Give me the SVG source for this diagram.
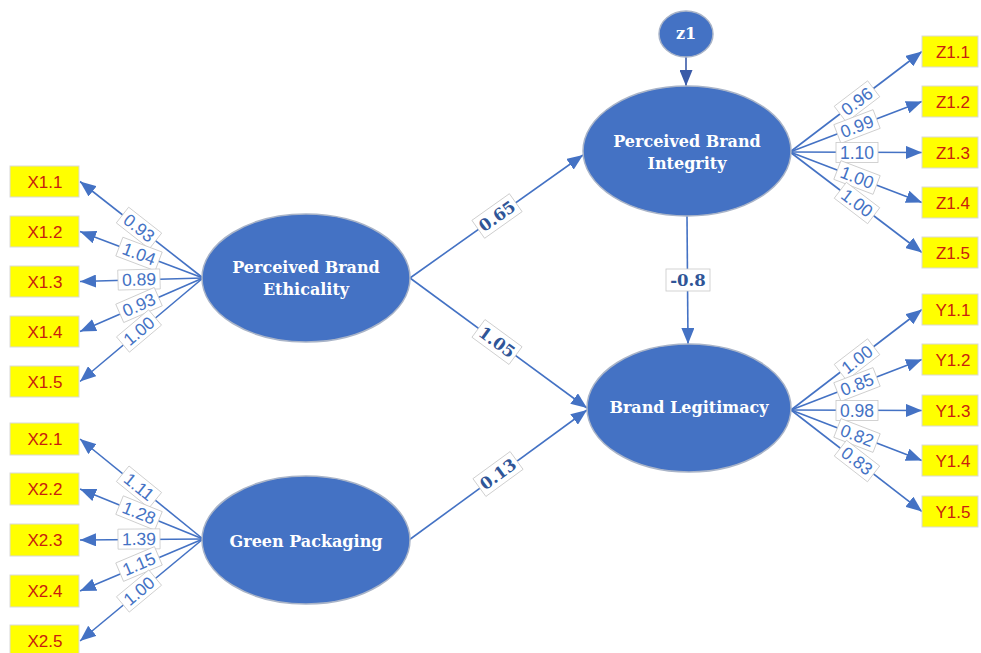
<svg xmlns="http://www.w3.org/2000/svg" width="981" height="653" viewBox="0 0 981 653">
<defs>
<marker id="ah" markerUnits="userSpaceOnUse" markerWidth="17" markerHeight="13" refX="16" refY="6.5" orient="auto">
<path d="M0,0 L16,6.5 L0,13 z" fill="#4472C4"/>
</marker>
<marker id="ahd" markerUnits="userSpaceOnUse" markerWidth="17" markerHeight="13" refX="16" refY="6.5" orient="auto">
<path d="M0,0 L16,6.5 L0,13 z" fill="#3A5BA8"/>
</marker>
</defs>
<style>
.lat{fill:#4472C4;stroke:#A9B4C8;stroke-width:1.5}
.lt{fill:#fff;font-family:"DejaVu Serif",serif;font-weight:bold;font-size:16px;text-anchor:middle}
.ind{fill:#FFFF00;stroke:#D9D9D9;stroke-width:1}
.it{fill:#C8200E;font-family:"Liberation Sans",Arial,sans-serif;font-size:17px;text-anchor:middle}
.ln{stroke:#4472C4;stroke-width:1.6;fill:none;marker-end:url(#ah)}
.lb{fill:#fff;stroke:#C8C8C8;stroke-width:0.8}
.lbt{fill:#4472C4;font-family:"Liberation Sans",Arial,sans-serif;font-size:17.5px;text-anchor:middle}
.pt{fill:#2F5597;font-family:"DejaVu Serif",serif;font-weight:bold;font-size:16.5px;text-anchor:middle}
</style>
<rect width="981" height="653" fill="#fff"/>

<g id="connectors">
<line class="ln" x1="203" y1="278" x2="80" y2="181.5"/>
<line class="ln" x1="203" y1="278" x2="80" y2="231.5"/>
<line class="ln" x1="203" y1="278" x2="80" y2="281.5"/>
<line class="ln" x1="203" y1="278" x2="80" y2="331.5"/>
<line class="ln" x1="203" y1="278" x2="80" y2="381.5"/>
<line class="ln" x1="203" y1="539" x2="80" y2="439"/>
<line class="ln" x1="203" y1="539" x2="80" y2="489"/>
<line class="ln" x1="203" y1="539" x2="80" y2="540"/>
<line class="ln" x1="203" y1="539" x2="80" y2="591"/>
<line class="ln" x1="203" y1="539" x2="80" y2="641"/>
<line class="ln" x1="790" y1="152" x2="922" y2="51.5"/>
<line class="ln" x1="790" y1="152" x2="922" y2="101.5"/>
<line class="ln" x1="790" y1="152" x2="922" y2="152.5"/>
<line class="ln" x1="790" y1="152" x2="922" y2="202.5"/>
<line class="ln" x1="790" y1="152" x2="922" y2="252.5"/>
<line class="ln" x1="791" y1="410" x2="922" y2="309.5"/>
<line class="ln" x1="791" y1="410" x2="922" y2="359.5"/>
<line class="ln" x1="791" y1="410" x2="922" y2="410.5"/>
<line class="ln" x1="791" y1="410" x2="922" y2="460.5"/>
<line class="ln" x1="791" y1="410" x2="922" y2="511.5"/>
<line class="ln" x1="410" y1="278" x2="583" y2="155"/>
<line class="ln" x1="410" y1="278" x2="587" y2="408"/>
<line class="ln" x1="409" y1="540" x2="587" y2="410"/>
<line class="ln" x1="687" y1="216" x2="688" y2="344"/>
<line x1="686" y1="57" x2="686" y2="86" stroke="#3A5BA8" stroke-width="1.6" marker-end="url(#ahd)"/>

<g transform="translate(139,228) rotate(38.1)"><rect class="lb" x="-21" y="-10" width="42" height="20"/><text class="lbt" y="6">0.93</text></g>
<g transform="translate(139,254) rotate(20.7)"><rect class="lb" x="-21" y="-10" width="42" height="20"/><text class="lbt" y="6">1.04</text></g>
<g transform="translate(139,279.5) rotate(-1.6)"><rect class="lb" x="-21" y="-10" width="42" height="20"/><text class="lbt" y="6">0.89</text></g>
<g transform="translate(139,305) rotate(-23.5)"><rect class="lb" x="-21" y="-10" width="42" height="20"/><text class="lbt" y="6">0.93</text></g>
<g transform="translate(139,331) rotate(-40.1)"><rect class="lb" x="-21" y="-10" width="42" height="20"/><text class="lbt" y="6">1.00</text></g>

<g transform="translate(139,487) rotate(39.1)"><rect class="lb" x="-21" y="-10" width="42" height="20"/><text class="lbt" y="6">1.11</text></g>
<g transform="translate(139,513) rotate(22.1)"><rect class="lb" x="-21" y="-10" width="42" height="20"/><text class="lbt" y="6">1.28</text></g>
<g transform="translate(139,539) rotate(-0.5)"><rect class="lb" x="-21" y="-10" width="42" height="20"/><text class="lbt" y="6">1.39</text></g>
<g transform="translate(139,564) rotate(-22.9)"><rect class="lb" x="-21" y="-10" width="42" height="20"/><text class="lbt" y="6">1.15</text></g>
<g transform="translate(139,591) rotate(-39.7)"><rect class="lb" x="-21" y="-10" width="42" height="20"/><text class="lbt" y="6">1.00</text></g>

<g transform="translate(857,101.5) rotate(-37.3)"><rect class="lb" x="-21" y="-10" width="42" height="20"/><text class="lbt" y="6">0.96</text></g>
<g transform="translate(857,126.5) rotate(-20.9)"><rect class="lb" x="-21" y="-10" width="42" height="20"/><text class="lbt" y="6">0.99</text></g>
<g transform="translate(857,152.5)"><rect class="lb" x="-21" y="-10" width="42" height="20"/><text class="lbt" y="6">1.10</text></g>
<g transform="translate(857,177.5) rotate(20.9)"><rect class="lb" x="-21" y="-10" width="42" height="20"/><text class="lbt" y="6">1.00</text></g>
<g transform="translate(857,203) rotate(37.3)"><rect class="lb" x="-21" y="-10" width="42" height="20"/><text class="lbt" y="6">1.00</text></g>

<g transform="translate(857,359.5) rotate(-37.5)"><rect class="lb" x="-21" y="-10" width="42" height="20"/><text class="lbt" y="6">1.00</text></g>
<g transform="translate(857,384.5) rotate(-21.1)"><rect class="lb" x="-21" y="-10" width="42" height="20"/><text class="lbt" y="6">0.85</text></g>
<g transform="translate(857,410.5)"><rect class="lb" x="-21" y="-10" width="42" height="20"/><text class="lbt" y="6">0.98</text></g>
<g transform="translate(857,435.5) rotate(21.1)"><rect class="lb" x="-21" y="-10" width="42" height="20"/><text class="lbt" y="6">0.82</text></g>
<g transform="translate(857,461) rotate(37.8)"><rect class="lb" x="-21" y="-10" width="42" height="20"/><text class="lbt" y="6">0.83</text></g>

<g transform="translate(497,216) rotate(-35.4)"><rect class="lb" x="-23" y="-11" width="46" height="22"/><text class="pt" y="6">0.65</text></g>
<g transform="translate(497,342) rotate(36.3)"><rect class="lb" x="-23" y="-11" width="46" height="22"/><text class="pt" y="6">1.05</text></g>
<g transform="translate(498,474) rotate(-36.1)"><rect class="lb" x="-23" y="-11" width="46" height="22"/><text class="pt" y="6">0.13</text></g>
<g transform="translate(688,280)"><rect class="lb" x="-22" y="-11" width="44" height="22"/><text class="pt" y="6">-0.8</text></g>
</g>

<g id="PBE"><ellipse class="lat" cx="306" cy="278" rx="104" ry="64"/><text class="lt" x="306" y="273">Perceived Brand</text><text class="lt" x="306" y="295">Ethicality</text></g>
<g id="GP"><ellipse class="lat" cx="306" cy="540" rx="104" ry="64"/><text class="lt" x="306" y="547">Green Packaging</text></g>
<g id="PBI"><ellipse class="lat" cx="687" cy="151" rx="104" ry="65"/><text class="lt" x="687" y="147">Perceived Brand</text><text class="lt" x="687" y="169">Integrity</text></g>
<g id="BL"><ellipse class="lat" cx="689" cy="408" rx="102" ry="64"/><text class="lt" x="689" y="413">Brand Legitimacy</text></g>
<g id="z1"><ellipse class="lat" cx="686" cy="34" rx="27" ry="23"/><text class="lt" x="686" y="39" font-size="15">z1</text></g>

<g id="X1.1"><rect class="ind" x="10" y="166" width="69" height="31"/><text class="it" x="45" y="187.5">X1.1</text></g>
<g id="X1.2"><rect class="ind" x="10" y="216" width="69" height="31"/><text class="it" x="45" y="237.5">X1.2</text></g>
<g id="X1.3"><rect class="ind" x="10" y="266" width="69" height="31"/><text class="it" x="45" y="287.5">X1.3</text></g>
<g id="X1.4"><rect class="ind" x="10" y="316" width="69" height="31"/><text class="it" x="45" y="337.5">X1.4</text></g>
<g id="X1.5"><rect class="ind" x="10" y="366" width="69" height="31"/><text class="it" x="45" y="387.5">X1.5</text></g>

<g id="X2.1"><rect class="ind" x="10" y="423" width="69" height="32"/><text class="it" x="45" y="445">X2.1</text></g>
<g id="X2.2"><rect class="ind" x="10" y="473" width="69" height="32"/><text class="it" x="45" y="495">X2.2</text></g>
<g id="X2.3"><rect class="ind" x="10" y="524" width="69" height="32"/><text class="it" x="45" y="546">X2.3</text></g>
<g id="X2.4"><rect class="ind" x="10" y="575" width="69" height="32"/><text class="it" x="45" y="597">X2.4</text></g>
<g id="X2.5"><rect class="ind" x="10" y="625" width="69" height="32"/><text class="it" x="45" y="647">X2.5</text></g>

<g id="Z1.1"><rect class="ind" x="922" y="36" width="56" height="31"/><text class="it" x="953" y="57.5">Z1.1</text></g>
<g id="Z1.2"><rect class="ind" x="922" y="86" width="56" height="31"/><text class="it" x="953" y="107.5">Z1.2</text></g>
<g id="Z1.3"><rect class="ind" x="922" y="137" width="56" height="31"/><text class="it" x="953" y="158.5">Z1.3</text></g>
<g id="Z1.4"><rect class="ind" x="922" y="187" width="56" height="31"/><text class="it" x="953" y="208.5">Z1.4</text></g>
<g id="Z1.5"><rect class="ind" x="922" y="237" width="56" height="31"/><text class="it" x="953" y="258.5">Z1.5</text></g>

<g id="Y1.1"><rect class="ind" x="922" y="294" width="56" height="31"/><text class="it" x="953" y="315.5">Y1.1</text></g>
<g id="Y1.2"><rect class="ind" x="922" y="344" width="56" height="31"/><text class="it" x="953" y="365.5">Y1.2</text></g>
<g id="Y1.3"><rect class="ind" x="922" y="395" width="56" height="31"/><text class="it" x="953" y="416.5">Y1.3</text></g>
<g id="Y1.4"><rect class="ind" x="922" y="445" width="56" height="31"/><text class="it" x="953" y="466.5">Y1.4</text></g>
<g id="Y1.5"><rect class="ind" x="922" y="496" width="56" height="31"/><text class="it" x="953" y="517.5">Y1.5</text></g>
</svg>
